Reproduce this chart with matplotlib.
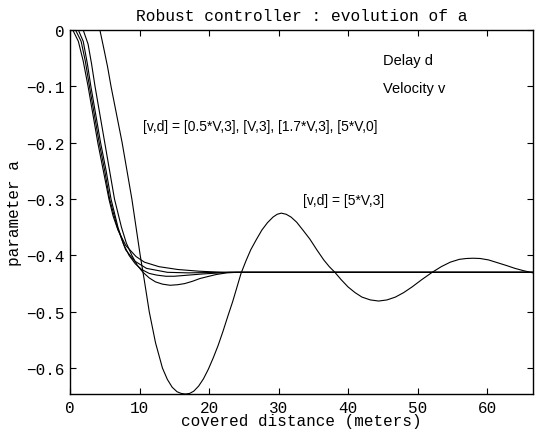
import numpy as np
import matplotlib
matplotlib.use("Agg")
import matplotlib.pyplot as plt

# curves: distance [m] / parameter a
x_5v3 = [0, 4.3, 4.9, 5.4, 5.9, 6.7, 7.5, 8.2, 8.9, 9.5, 10.1, 10.7, 11.4, 12.3, 13.3,
         14.0, 14.7, 15.4, 16.0, 16.6, 17.2, 17.8, 18.5, 19.2, 19.9, 20.6, 21.3, 22.0,
         22.7, 23.4, 24.0, 24.6, 25.3, 26.0, 26.8, 27.6, 28.4, 29.2, 29.8, 30.4, 31.1,
         31.8, 32.6, 33.5, 34.5, 35.5, 36.5, 37.3, 38.1, 39.0, 40.0, 41.0, 42.0, 43.2,
         44.4, 45.6, 46.8, 48.0, 49.2, 50.6, 52.1, 53.4, 54.7, 56.0, 57.0, 58.0, 59.0,
         60.2, 61.5, 62.8, 64.0, 65.2, 66.6]
a_5v3 = [0, 0, -0.035, -0.065, -0.1, -0.15, -0.2, -0.25, -0.3, -0.35, -0.4, -0.445,
         -0.5, -0.555, -0.6, -0.62, -0.634, -0.642, -0.645, -0.646, -0.645, -0.641,
         -0.632, -0.619, -0.602, -0.582, -0.56, -0.535, -0.508, -0.482, -0.457, -0.432,
         -0.41, -0.39, -0.372, -0.355, -0.342, -0.332, -0.327, -0.325, -0.327, -0.332,
         -0.341, -0.355, -0.371, -0.39, -0.408, -0.42, -0.43, -0.443, -0.456, -0.466,
         -0.474, -0.479, -0.481, -0.479, -0.474, -0.466, -0.456, -0.443, -0.43, -0.42,
         -0.412, -0.407, -0.4055, -0.405, -0.4055, -0.408, -0.413, -0.418, -0.423,
         -0.427, -0.431]

x_c1 = [0, 0.4, 1.2, 1.9, 2.6, 3.3, 4.0, 4.8, 5.6, 6.2, 6.9, 8.0, 9.5, 10.7, 12.8,
        15.5, 18.5, 22, 66.6]
a_c1 = [0, 0, -0.02, -0.055, -0.1, -0.15, -0.2, -0.25, -0.3, -0.33, -0.355, -0.382,
        -0.402, -0.412, -0.42, -0.425, -0.428, -0.43, -0.43]

x_c2 = [0, 0.8, 1.6, 2.2, 2.8, 3.5, 4.2, 5.0, 5.7, 6.8, 8.0, 9.3, 11.0, 14.0, 17.0,
        22, 66.6]
a_c2 = [0, 0, -0.02, -0.055, -0.1, -0.15, -0.2, -0.25, -0.3, -0.35, -0.39, -0.41,
        -0.423, -0.43, -0.431, -0.43, -0.43]

x_c3 = [0, 1.2, 1.9, 2.5, 3.0, 3.7, 4.4, 5.2, 5.9, 6.9, 7.7, 8.5, 9.4, 10.3, 11.4,
        12.5, 13.8, 15.0, 17.0, 19.0, 23, 66.6]
a_c3 = [0, 0, -0.02, -0.06, -0.1, -0.15, -0.2, -0.25, -0.3, -0.35, -0.38, -0.4,
        -0.415, -0.425, -0.432, -0.435, -0.437, -0.437, -0.435, -0.433, -0.43, -0.43]

x_c4 = [0, 1.9, 2.6, 3.1, 3.6, 4.3, 5.0, 5.7, 6.4, 7.4, 8.1, 8.9, 9.7, 10.5, 11.4,
        12.3, 13.3, 14.4, 15.5, 16.5, 17.6, 18.7, 20.0, 21.0, 22.5, 24, 66.6]
a_c4 = [0, 0, -0.025, -0.06, -0.1, -0.15, -0.2, -0.25, -0.3, -0.35, -0.378, -0.4,
        -0.418, -0.43, -0.44, -0.447, -0.451, -0.453, -0.452, -0.45, -0.446, -0.441,
        -0.437, -0.434, -0.431, -0.43, -0.43]

xticks = [0, 10, 20, 30, 40, 50, 60]
yticks = [0, -0.1, -0.2, -0.3, -0.4, -0.5, -0.6]
ytick_labels = ["0", "\u22120.1", "\u22120.2", "\u22120.3", "\u22120.4", "\u22120.5", "\u22120.6"]

mono = ["Liberation Mono", "DejaVu Sans Mono"]
sans = ["Liberation Sans", "DejaVu Sans"]

fig = plt.figure(figsize=(5.36, 4.31), dpi=100)
ax = fig.add_axes([0.1306, 0.0835, 0.8638, 0.8445])

for xs, ys in [(x_c1, a_c1), (x_c2, a_c2), (x_c3, a_c3), (x_c4, a_c4), (x_5v3, a_5v3)]:
    ax.plot(xs, ys, color="black", lw=0.8)

ax.set_xlim(0, 66.6)
ax.set_ylim(-0.646, 0)

ax.set_xticks(xticks)
ax.set_xticklabels([str(t) for t in xticks], family=mono, fontsize=11.5)
ax.set_yticks(yticks)
ax.set_yticklabels(ytick_labels, family=mono, fontsize=11.5)
ax.tick_params(direction="in", top=True, right=True, length=4, width=0.8, pad=4)
for s in ax.spines.values():
    s.set_linewidth(1.0)

ax.set_title("Robust controller : evolution of a", family=mono, fontsize=11.7, pad=7)
ax.set_xlabel("covered distance (meters)", family=mono, fontsize=11.5, labelpad=-1)
ax.set_ylabel("parameter a", family=mono, fontsize=11.5, labelpad=3)

ax.text(45.0, -0.053, "Delay d", family=sans, fontsize=10.5, va="center")
ax.text(45.0, -0.103, "Velocity v", family=sans, fontsize=10.5, va="center")
ax.text(10.5, -0.171, "[v,d] = [0.5*V,3], [V,3], [1.7*V,3], [5*V,0]", family=sans,
        fontsize=10, va="center")
ax.text(33.5, -0.302, "[v,d] = [5*V,3]", family=sans, fontsize=10, va="center")

fig.savefig("out.png", dpi=100)
